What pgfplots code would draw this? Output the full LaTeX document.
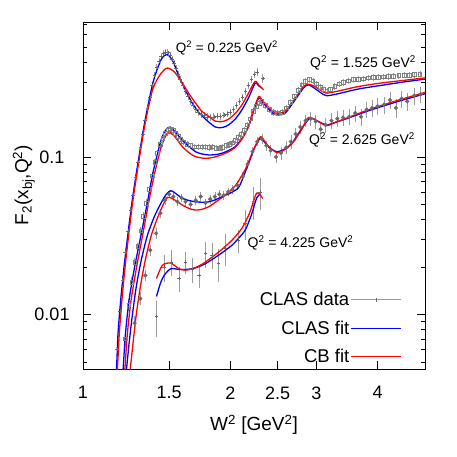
\documentclass[border=0pt]{standalone}
\usepackage{fontspec}
\setmainfont{Liberation Sans}
\usepackage{pgfplots}
\usepackage{pgfplotstable}
\pgfplotsset{compat=1.18}

\definecolor{fitblue}{RGB}{0,0,255}
\definecolor{fitred}{RGB}{255,0,0}
\definecolor{datgray}{RGB}{105,105,105}
\definecolor{errgray}{RGB}{155,155,155}

% CLAS data, Q^2 = 0.225
\pgfplotstableread{
w f e
1.175 0.0060 0.0006
1.190 0.0105 0.0008
1.205 0.0165 0.0010
1.220 0.0250 0.0014
1.235 0.0340 0.0018
1.250 0.0460 0.0024
1.265 0.0570 0.0030
1.280 0.0740 0.0038
1.295 0.0920 0.0046
1.310 0.1150 0.0058
1.325 0.1400 0.0070
1.340 0.1700 0.0085
1.355 0.2050 0.0100
1.370 0.2400 0.0120
1.385 0.2850 0.0140
1.400 0.3300 0.0160
1.415 0.3700 0.0180
1.430 0.4050 0.0200
1.445 0.4350 0.0210
1.460 0.4550 0.0220
1.475 0.4650 0.0230
1.490 0.4600 0.0230
1.505 0.4450 0.0220
1.520 0.4200 0.0210
1.535 0.3950 0.0200
1.550 0.3650 0.0180
1.565 0.3350 0.0170
1.580 0.3100 0.0150
1.600 0.2850 0.0140
1.620 0.2620 0.0130
1.640 0.2420 0.0120
1.660 0.2250 0.0110
1.680 0.2120 0.0110
1.700 0.2000 0.0100
1.720 0.1930 0.0100
1.745 0.1870 0.0090
1.770 0.1830 0.0090
1.795 0.1800 0.0090
1.820 0.1790 0.0090
1.850 0.1800 0.0090
1.880 0.1820 0.0090
1.910 0.1810 0.0090
1.940 0.1850 0.0090
1.970 0.1880 0.0090
2.000 0.1930 0.0100
2.030 0.2000 0.0100
2.060 0.2120 0.0110
2.090 0.2250 0.0110
2.120 0.2400 0.0120
2.150 0.2600 0.0130
2.180 0.2850 0.0140
2.210 0.3100 0.0160
2.240 0.3350 0.0170
2.270 0.3450 0.0200
2.330 0.3150 0.0200
}\dataA

% Q^2 = 1.525
\pgfplotstableread{
w f e
1.222 0.0070 0.0008
1.240 0.0115 0.0010
1.258 0.0160 0.0012
1.276 0.0215 0.0014
1.294 0.0270 0.0016
1.312 0.0340 0.0020
1.330 0.0420 0.0024
1.348 0.0510 0.0028
1.366 0.0620 0.0032
1.384 0.0760 0.0038
1.402 0.0920 0.0045
1.420 0.1060 0.0050
1.438 0.1200 0.0055
1.456 0.1320 0.0060
1.474 0.1420 0.0065
1.492 0.1490 0.0070
1.510 0.1510 0.0070
1.528 0.1470 0.0070
1.546 0.1410 0.0065
1.564 0.1350 0.0062
1.582 0.1300 0.0060
1.605 0.1250 0.0058
1.630 0.1210 0.0056
1.660 0.1180 0.0055
1.690 0.1160 0.0054
1.720 0.1160 0.0054
1.750 0.1160 0.0054
1.780 0.1160 0.0054
1.810 0.1150 0.0054
1.840 0.1160 0.0054
1.870 0.1140 0.0054
1.900 0.1140 0.0054
1.930 0.1150 0.0054
1.960 0.1180 0.0055
1.990 0.1200 0.0056
2.020 0.1230 0.0057
2.050 0.1270 0.0059
2.080 0.1330 0.0062
2.110 0.1400 0.0065
2.140 0.1480 0.0069
2.170 0.1600 0.0074
2.200 0.1750 0.0080
2.230 0.1950 0.0090
2.260 0.2100 0.0097
2.290 0.2200 0.0100
2.320 0.2250 0.0100
2.360 0.2120 0.0100
2.400 0.2000 0.0090
2.450 0.1920 0.0090
2.500 0.1900 0.0090
2.550 0.1930 0.0090
2.600 0.2050 0.0090
2.650 0.2220 0.0100
2.700 0.2420 0.0110
2.750 0.2650 0.0120
2.800 0.2870 0.0130
2.850 0.3030 0.0140
2.900 0.3100 0.0140
2.950 0.3050 0.0140
3.000 0.2920 0.0130
3.050 0.2780 0.0130
3.100 0.2680 0.0120
3.150 0.2620 0.0120
3.200 0.2680 0.0120
3.270 0.2800 0.0130
3.340 0.2920 0.0130
3.410 0.2980 0.0140
3.490 0.3050 0.0140
3.570 0.3100 0.0140
3.650 0.3120 0.0140
3.740 0.3140 0.0140
3.830 0.3180 0.0150
3.920 0.3200 0.0150
4.010 0.3220 0.0150
4.110 0.3230 0.0150
4.210 0.3250 0.0150
4.310 0.3270 0.0150
4.420 0.3290 0.0150
4.530 0.3310 0.0150
4.640 0.3320 0.0150
4.760 0.3340 0.0150
4.880 0.3360 0.0150
}\dataB

% Q^2 = 2.625
\pgfplotstableread{
w f e
1.275 0.0088 0.0010
1.309 0.0126 0.0012
1.341 0.0177 0.0015
1.372 0.0256 0.0020
1.411 0.0327 0.0025
1.440 0.0440 0.0030
1.470 0.0530 0.0035
1.500 0.0580 0.0035
1.530 0.0560 0.0035
1.560 0.0520 0.0033
1.590 0.0550 0.0033
1.620 0.0520 0.0032
1.660 0.0500 0.0032
1.700 0.0530 0.0033
1.740 0.0560 0.0035
1.780 0.0510 0.0033
1.820 0.0540 0.0035
1.860 0.0560 0.0035
1.900 0.0580 0.0036
1.940 0.0570 0.0036
1.980 0.0600 0.0038
2.020 0.0620 0.0040
2.070 0.0660 0.0045
2.120 0.0750 0.0050
2.170 0.0900 0.0060
2.220 0.1080 0.0070
2.270 0.1250 0.0080
2.320 0.1300 0.0090
2.370 0.1180 0.0090
2.420 0.1100 0.0090
2.480 0.1000 0.0090
2.540 0.1060 0.0100
2.600 0.1150 0.0110
2.660 0.1250 0.0120
2.720 0.1400 0.0130
2.780 0.1550 0.0150
2.850 0.1700 0.0160
2.920 0.1750 0.0170
2.990 0.1680 0.0170
3.060 0.1500 0.0170
3.130 0.1600 0.0180
3.220 0.1700 0.0190
3.310 0.1750 0.0200
3.400 0.1780 0.0200
3.500 0.1800 0.0210
3.600 0.1900 0.0220
3.700 0.1800 0.0230
3.800 0.2000 0.0240
3.900 0.2050 0.0250
4.000 0.2100 0.0260
4.120 0.2150 0.0270
4.240 0.2300 0.0280
4.360 0.2050 0.0280
4.480 0.2350 0.0290
4.600 0.2250 0.0290
4.750 0.2450 0.0300
4.900 0.2500 0.0300
}\dataC

% Q^2 = 4.225
\pgfplotstableread{
w f e
1.413 0.0097 0.0025
1.465 0.0200 0.0040
1.518 0.0215 0.0040
1.571 0.0169 0.0030
1.620 0.0215 0.0035
1.672 0.0193 0.0035
1.725 0.0177 0.0030
1.779 0.0243 0.0045
1.836 0.0238 0.0045
1.894 0.0210 0.0050
1.953 0.0262 0.0060
2.080 0.0296 0.0050
2.145 0.0378 0.0080
2.230 0.0520 0.0120
2.300 0.0600 0.0140
}\dataD

% CLAS fit
\pgfplotstableread{
w f
1.158 0.0030
1.171 0.0046
1.179 0.0075
1.194 0.0123
1.213 0.0200
1.236 0.0327
1.261 0.0532
1.295 0.0912
1.336 0.1640
1.389 0.2940
1.444 0.4150
1.488 0.4470
1.530 0.4000
1.571 0.3250
1.620 0.2650
1.672 0.2200
1.725 0.1920
1.779 0.1740
1.864 0.1550
1.930 0.1540
1.985 0.1600
2.050 0.1750
2.112 0.1990
2.180 0.2380
2.248 0.2940
2.285 0.2830
2.322 0.2740
}\blueA

\pgfplotstableread{
w f
1.195 0.0035
1.207 0.0044
1.221 0.0075
1.242 0.0123
1.275 0.0200
1.316 0.0327
1.357 0.0532
1.389 0.0787
1.444 0.1280
1.480 0.1500
1.509 0.1546
1.550 0.1420
1.596 0.1280
1.650 0.1160
1.698 0.1080
1.750 0.1045
1.808 0.1030
1.865 0.1035
1.923 0.1056
1.985 0.1100
2.047 0.1163
2.120 0.1330
2.179 0.1560
2.230 0.1950
2.287 0.2366
2.330 0.2220
2.377 0.2070
2.430 0.1920
2.491 0.1850
2.590 0.1900
2.714 0.2310
2.822 0.2740
2.888 0.2870
2.980 0.2720
3.060 0.2560
3.147 0.2450
3.320 0.2520
3.650 0.2700
4.070 0.2850
4.540 0.3000
5.000 0.3120
}\blueB

\pgfplotstableread{
w f
1.215 0.0035
1.228 0.0046
1.242 0.0065
1.262 0.0100
1.285 0.0150
1.315 0.0220
1.355 0.0320
1.400 0.0420
1.444 0.0510
1.480 0.0580
1.514 0.0610
1.560 0.0575
1.596 0.0546
1.650 0.0528
1.698 0.0519
1.750 0.0516
1.808 0.0519
1.865 0.0535
1.923 0.0559
2.000 0.0590
2.080 0.0640
2.145 0.0800
2.200 0.0980
2.250 0.1170
2.305 0.1316
2.350 0.1240
2.400 0.1150
2.491 0.1080
2.580 0.1120
2.672 0.1220
2.800 0.1520
2.912 0.1764
3.027 0.1680
3.147 0.1600
3.300 0.1670
3.480 0.1764
3.880 0.1990
4.400 0.2250
5.000 0.2520
}\blueC

\pgfplotstableread{
w f
1.413 0.0130
1.440 0.0158
1.465 0.0177
1.511 0.0195
1.571 0.0193
1.620 0.0193
1.672 0.0195
1.725 0.0201
1.779 0.0210
1.894 0.0238
2.016 0.0275
2.080 0.0305
2.145 0.0343
2.210 0.0430
2.265 0.0550
2.310 0.0585
}\blueD

% CB fit
\pgfplotstableread{
w f
1.160 0.0030
1.176 0.0046
1.186 0.0075
1.201 0.0123
1.219 0.0200
1.241 0.0327
1.265 0.0532
1.298 0.0900
1.338 0.1600
1.389 0.2700
1.444 0.3400
1.488 0.3670
1.540 0.3450
1.596 0.2940
1.650 0.2500
1.698 0.2200
1.750 0.1950
1.808 0.1810
1.864 0.1690
1.930 0.1680
1.985 0.1740
2.050 0.1900
2.112 0.2140
2.180 0.2550
2.248 0.3020
2.290 0.2850
2.340 0.2670
}\redA

\pgfplotstableread{
w f
1.205 0.0035
1.217 0.0044
1.232 0.0075
1.254 0.0123
1.287 0.0200
1.326 0.0327
1.365 0.0532
1.400 0.0780
1.444 0.1150
1.488 0.1416
1.530 0.1380
1.596 0.1163
1.650 0.1060
1.698 0.1004
1.779 0.0980
1.850 0.0995
1.923 0.1035
1.985 0.1080
2.047 0.1150
2.120 0.1320
2.179 0.1560
2.230 0.1980
2.287 0.2420
2.330 0.2260
2.377 0.2120
2.430 0.1980
2.491 0.1900
2.590 0.1950
2.714 0.2360
2.822 0.2800
2.888 0.2900
2.980 0.2800
3.060 0.2650
3.147 0.2550
3.320 0.2620
3.650 0.2800
4.070 0.2950
4.540 0.3070
5.000 0.3180
}\redB

\pgfplotstableread{
w f
1.235 0.0035
1.250 0.0046
1.265 0.0065
1.285 0.0100
1.310 0.0150
1.340 0.0220
1.380 0.0320
1.420 0.0410
1.455 0.0490
1.488 0.0554
1.530 0.0540
1.596 0.0495
1.650 0.0470
1.698 0.0460
1.750 0.0465
1.808 0.0483
1.880 0.0525
1.953 0.0573
2.050 0.0660
2.145 0.0830
2.200 0.1000
2.250 0.1180
2.305 0.1345
2.350 0.1260
2.400 0.1160
2.491 0.1065
2.580 0.1110
2.672 0.1210
2.800 0.1500
2.888 0.1780
3.027 0.1680
3.147 0.1580
3.300 0.1670
3.480 0.1780
3.880 0.2020
4.400 0.2290
5.000 0.2570
}\redC

\pgfplotstableread{
w f
1.413 0.0169
1.453 0.0205
1.511 0.0212
1.571 0.0195
1.620 0.0191
1.672 0.0195
1.725 0.0203
1.779 0.0215
1.894 0.0249
2.016 0.0296
2.112 0.0352
2.190 0.0440
2.265 0.0590
2.330 0.0545
}\redD

\begin{document}
\begin{tikzpicture}
\begin{axis}[
    scale only axis,
    width=342pt, height=347pt,
    xmode=log, ymode=log,
    xmin=1, xmax=5, ymin=0.0045, ymax=0.72,
    xtick={1,1.5,2,2.5,3,4},
    xticklabels={1,1.5,2,2.5,3,4},
    ytick={0.01,0.1},
    yticklabels={0.01,0.1},
    minor ytick={0.005,0.006,0.007,0.008,0.009,0.02,0.03,0.04,0.05,0.06,0.07,0.08,0.09,0.2,0.3,0.4,0.5,0.6,0.7},
    tick align=inside,
    major tick length=8pt,
    minor tick length=4.5pt,
    tick style={black, line width=0.6pt},
    axis line style={black, line width=0.8pt},
    /pgf/number format/assume math mode=true,
    tick label style={font=\fontsize{18}{20}\selectfont},
    xticklabel style={yshift=-14pt},
    yticklabel style={anchor=center, xshift=-31pt},
    xlabel={W\textsuperscript{2} [GeV\textsuperscript{2}]},
    ylabel={F\textsubscript{2}(x\textsubscript{bj},Q\textsuperscript{2})},
    label style={font=\fontsize{19}{21}\selectfont},
    xlabel style={at={(rel axis cs:0.5,-0.161)}, anchor=center},
    ylabel style={at={(rel axis cs:-0.173,0.53)}, anchor=center},
    legend style={draw=none, fill=none, font=\fontsize{18.5}{20}\selectfont,
        at={(rel axis cs:0.94,0.233)}, anchor=north east, row sep=9.5pt},
    legend cell align=right,
    legend plot pos=right,
    error bars/error bar style={errgray, line width=0.6pt},
    error bars/error mark=none,
]
% legend samples
\addlegendimage{legend image code/.code={\fill[errgray, draw=none] (0pt,-0.4pt) rectangle (50pt,0.4pt);
        \fill[datgray, draw=none] (24.6pt,-2pt) rectangle (25.4pt,2pt);}}
\addlegendentry{CLAS data}
\addlegendimage{legend image code/.code={\fill[fitblue, draw=none] (0pt,-0.6pt) rectangle (50pt,0.6pt);}}
\addlegendentry{CLAS fit}
\addlegendimage{legend image code/.code={\fill[fitred, draw=none] (0pt,-0.6pt) rectangle (50pt,0.6pt);}}
\addlegendentry{CB fit}

% CLAS data
\addplot[forget plot, datgray, only marks, mark=+, mark size=1.8pt,
    error bars/.cd, y dir=both, y explicit]
    table[x=w, y=f, y error=e] {\dataA};
\addplot[forget plot, color=gray, only marks, mark=square, mark size=1.9pt, mark options={line width=0.6pt},
    error bars/.cd, y dir=both, y explicit]
    table[x=w, y=f, y error=e] {\dataB};
\addplot[forget plot, datgray, only marks, mark=*, mark size=1.9pt,
    error bars/.cd, y dir=both, y explicit]
    table[x=w, y=f, y error=e] {\dataC};
\addplot[forget plot, datgray, only marks, mark=+, mark size=1.8pt,
    error bars/.cd, y dir=both, y explicit]
    table[x=w, y=f, y error=e] {\dataD};

% CLAS fit
\addplot[forget plot, fitblue, line width=1.3pt, smooth, tension=0.45, mark=none] table[x=w, y=f] {\blueA};
\addplot[forget plot, fitblue, line width=1.3pt, smooth, tension=0.45, mark=none] table[x=w, y=f] {\blueB};
\addplot[forget plot, fitblue, line width=1.3pt, smooth, tension=0.45, mark=none] table[x=w, y=f] {\blueC};
\addplot[forget plot, fitblue, line width=1.3pt, smooth, tension=0.45, mark=none] table[x=w, y=f] {\blueD};

% CB fit
\addplot[forget plot, fitred, line width=1.3pt, smooth, tension=0.45, mark=none] table[x=w, y=f] {\redA};
\addplot[forget plot, fitred, line width=1.3pt, smooth, tension=0.45, mark=none] table[x=w, y=f] {\redB};
\addplot[forget plot, fitred, line width=1.3pt, smooth, tension=0.45, mark=none] table[x=w, y=f] {\redC};
\addplot[forget plot, fitred, line width=1.3pt, smooth, tension=0.45, mark=none] table[x=w, y=f] {\redD};

\node[font=\fontsize{13.5}{15}\selectfont] at (axis cs:1.969,0.495) {Q\textsuperscript{2} = 0.225 GeV\textsuperscript{2}};
\node[font=\fontsize{14}{15}\selectfont] at (axis cs:3.735,0.397) {Q\textsuperscript{2} = 1.525 GeV\textsuperscript{2}};
\node[font=\fontsize{14}{15}\selectfont] at (axis cs:3.717,0.128) {Q\textsuperscript{2} = 2.625 GeV\textsuperscript{2}};
\node[font=\fontsize{14}{15}\selectfont] at (axis cs:2.783,0.0283) {Q\textsuperscript{2} = 4.225 GeV\textsuperscript{2}};
\end{axis}
\pgfresetboundingbox
\useasboundingbox (current axis.south west) ++(-83pt,-88pt) rectangle ++(457pt,457pt);
\end{tikzpicture}
\end{document}
